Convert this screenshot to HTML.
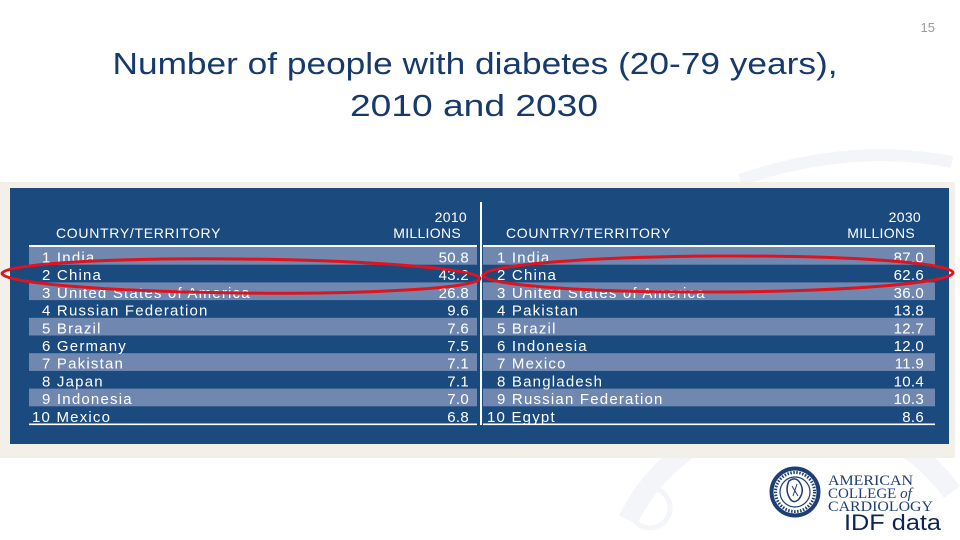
<!DOCTYPE html>
<html><head><meta charset="utf-8"><style>
html,body{margin:0;padding:0;background:#fff;width:960px;height:540px;overflow:hidden;}
svg{display:block;}
.t{font-family:"Liberation Sans",Arial,sans-serif;fill:#fff;font-size:15px;letter-spacing:1.2px;}
.h{font-family:"Liberation Sans",Arial,sans-serif;fill:#fff;font-size:14px;letter-spacing:0.7px;}
.n{text-anchor:end;letter-spacing:0.3px;}
</style></head><body>
<svg width="960" height="540" viewBox="0 0 960 540" xmlns="http://www.w3.org/2000/svg">
<rect width="960" height="540" fill="#fff"/>
<!-- watermark -->
<path d="M740 180 Q850 142 952 162" stroke="#f3f5f8" stroke-width="12" fill="none"/>
<path d="M628 520 A190 190 0 0 1 952 492" stroke="#f3f5f8" stroke-width="20" fill="none"/>
<circle cx="650" cy="508" r="20" stroke="#f3f5f8" stroke-width="5" fill="none"/>
<!-- title -->
<text x="475" y="74" text-anchor="middle" font-family="Liberation Sans,Arial,sans-serif" font-size="31" fill="#173a6c" textLength="725" lengthAdjust="spacingAndGlyphs">Number of people with diabetes (20-79 years),</text>
<text x="474" y="116" text-anchor="middle" font-family="Liberation Sans,Arial,sans-serif" font-size="31" fill="#173a6c" textLength="248" lengthAdjust="spacingAndGlyphs">2010 and 2030</text>
<text x="935" y="32" text-anchor="end" font-family="Liberation Sans,Arial,sans-serif" font-size="13" fill="#9a9a9a">15</text>
<!-- table background -->
<rect x="0" y="182" width="955" height="276" fill="#f3f0e9"/>
<rect x="10" y="188" width="939" height="256" fill="#1b4a7f"/>
<!-- light bands -->
<g fill="#7088b0">
<rect x="29" y="247" width="448" height="17.7"/><rect x="483" y="247" width="452" height="17.7"/>
<rect x="29" y="282.4" width="448" height="17.7"/><rect x="483" y="282.4" width="452" height="17.7"/>
<rect x="29" y="317.8" width="448" height="17.7"/><rect x="483" y="317.8" width="452" height="17.7"/>
<rect x="29" y="353.2" width="448" height="17.7"/><rect x="483" y="353.2" width="452" height="17.7"/>
<rect x="29" y="388.6" width="448" height="17.7"/><rect x="483" y="388.6" width="452" height="17.7"/>
</g>
<!-- lines -->
<g fill="#fff">
<rect x="29" y="245" width="448" height="2"/><rect x="483" y="245" width="452" height="2"/>
<rect x="29" y="423.5" width="448" height="1.6"/><rect x="483" y="423.5" width="452" height="1.6"/>
<rect x="480" y="202" width="2" height="223"/>
</g>
<!-- headers -->
<text class="h n" x="467" y="222">2010</text>
<text class="h n" x="461" y="238">MILLIONS</text>
<text class="h" x="56" y="238">COUNTRY/TERRITORY</text>
<text class="h n" x="921" y="222">2030</text>
<text class="h n" x="915" y="238">MILLIONS</text>
<text class="h" x="506" y="238">COUNTRY/TERRITORY</text>
<!-- left rows -->
<g class="t">
<text x="42" y="262.5">1 India</text><text class="n" x="469" y="262.5">50.8</text>
<text x="42" y="280.2">2 China</text><text class="n" x="469" y="280.2">43.2</text>
<text x="42" y="297.9">3 United States of America</text><text class="n" x="469" y="297.9">26.8</text>
<text x="42" y="315.6">4 Russian Federation</text><text class="n" x="469" y="315.6">9.6</text>
<text x="42" y="333.3">5 Brazil</text><text class="n" x="469" y="333.3">7.6</text>
<text x="42" y="351">6 Germany</text><text class="n" x="469" y="351">7.5</text>
<text x="42" y="368.7">7 Pakistan</text><text class="n" x="469" y="368.7">7.1</text>
<text x="42" y="386.4">8 Japan</text><text class="n" x="469" y="386.4">7.1</text>
<text x="42" y="404.1">9 Indonesia</text><text class="n" x="469" y="404.1">7.0</text>
<text x="32" y="421.8">10 Mexico</text><text class="n" x="469" y="421.8">6.8</text>
</g>
<!-- right rows -->
<g class="t">
<text x="497" y="262.5">1 India</text><text class="n" x="924" y="262.5">87.0</text>
<text x="497" y="280.2">2 China</text><text class="n" x="924" y="280.2">62.6</text>
<text x="497" y="297.9">3 United States of America</text><text class="n" x="924" y="297.9">36.0</text>
<text x="497" y="315.6">4 Pakistan</text><text class="n" x="924" y="315.6">13.8</text>
<text x="497" y="333.3">5 Brazil</text><text class="n" x="924" y="333.3">12.7</text>
<text x="497" y="351">6 Indonesia</text><text class="n" x="924" y="351">12.0</text>
<text x="497" y="368.7">7 Mexico</text><text class="n" x="924" y="368.7">11.9</text>
<text x="497" y="386.4">8 Bangladesh</text><text class="n" x="924" y="386.4">10.4</text>
<text x="497" y="404.1">9 Russian Federation</text><text class="n" x="924" y="404.1">10.3</text>
<text x="487" y="421.8">10 Egypt</text><text class="n" x="924" y="421.8">8.6</text>
</g>
<!-- red ellipses -->
<ellipse cx="241" cy="276" rx="239" ry="17" fill="none" stroke="#e0131c" stroke-width="3" transform="rotate(0.6 241 276)"/>
<ellipse cx="718" cy="274" rx="235" ry="18" fill="none" stroke="#e0131c" stroke-width="3" transform="rotate(-0.3 718 274)"/>
<!-- logo -->
<circle cx="795" cy="492" r="23.5" fill="#fff" stroke="#1d3f73" stroke-width="4"/>
<circle cx="795" cy="492" r="15" fill="#fff" stroke="#1d3f73" stroke-width="1.2"/>
<circle cx="795" cy="492" r="19.5" fill="none" stroke="#1d3f73" stroke-width="3" stroke-dasharray="1.5 1.5"/>
<path d="M789 481 q7 -5 11 2 q5 8 -1 16 q-6 6 -10 -2 q-4 -8 0 -16z" fill="none" stroke="#1d3f73" stroke-width="1.5"/>
<path d="M792 486 l6 10 M797 484 l-4 12" stroke="#1d3f73" stroke-width="1"/>
<g font-family="Liberation Serif,serif" fill="#1d3f73" font-size="15">
<text x="828" y="485" textLength="85" lengthAdjust="spacingAndGlyphs">AMERICAN</text>
<text x="828" y="498">COLLEGE <tspan font-style="italic">of</tspan></text>
<text x="828" y="511" textLength="105" lengthAdjust="spacingAndGlyphs">CARDIOLOGY</text>
</g>
<text x="844" y="530" font-family="Liberation Sans,Arial,sans-serif" font-size="22" fill="#0d2550" textLength="97" lengthAdjust="spacingAndGlyphs">IDF data</text>
</svg>
</body></html>
